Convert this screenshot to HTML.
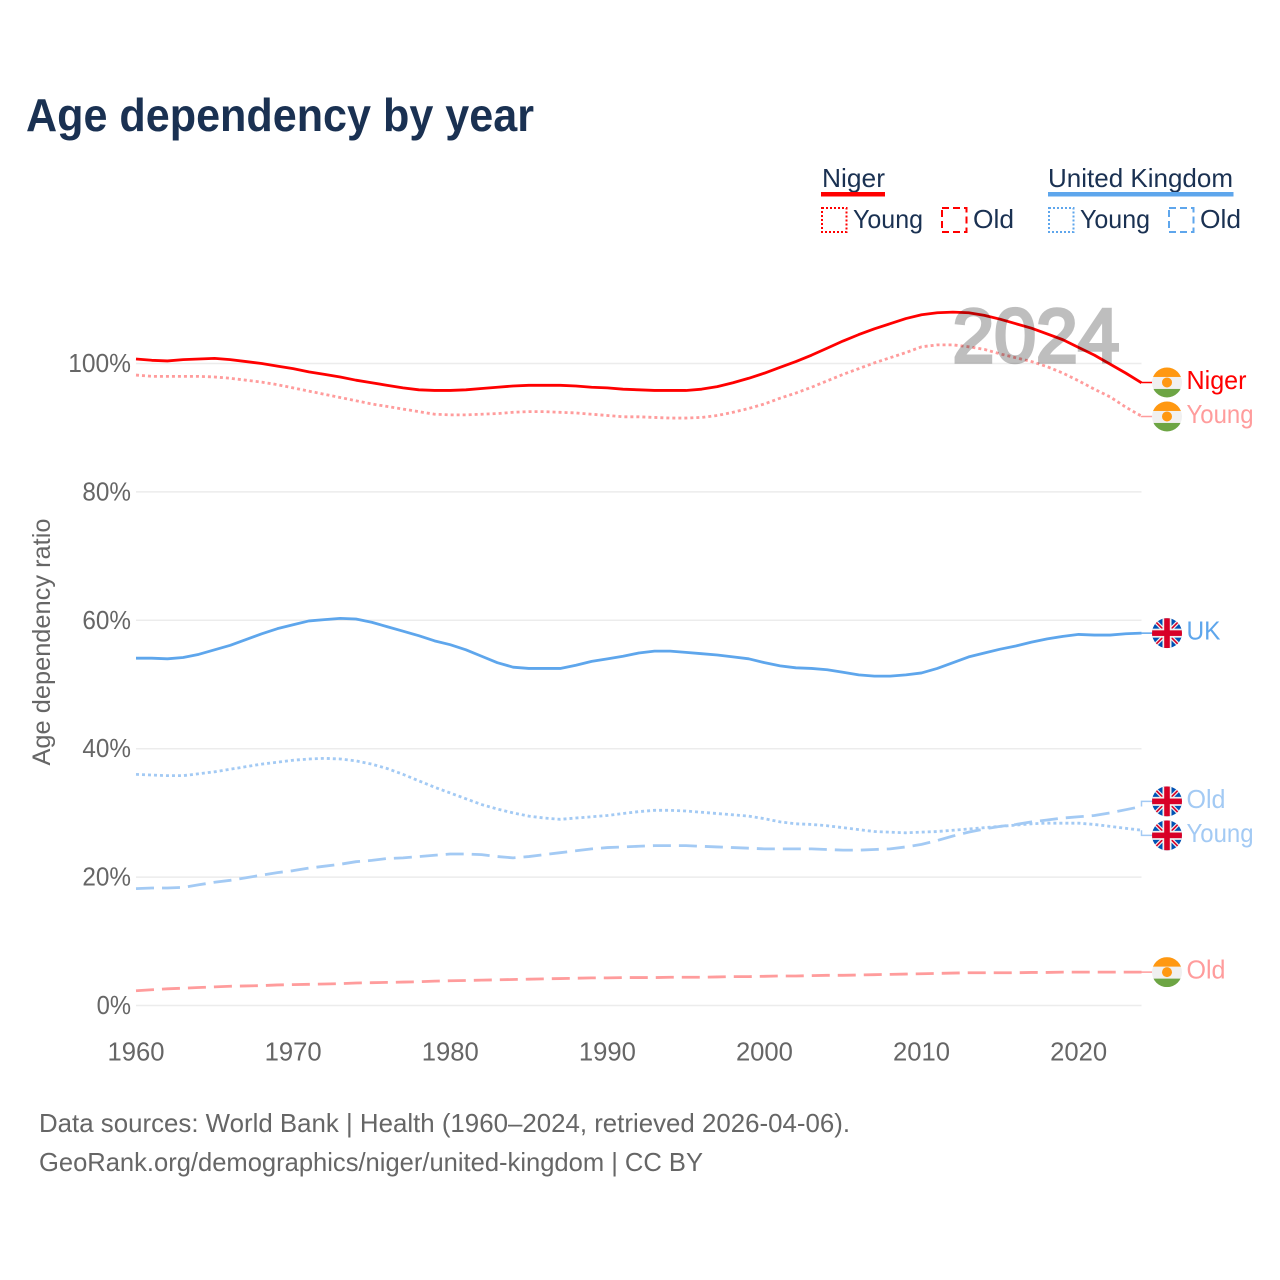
<!DOCTYPE html>
<html lang="en">
<head>
<meta charset="utf-8">
<title>Age dependency by year</title>
<style>
html,body{margin:0;padding:0;background:#fff;}
svg{display:block;font-family:"Liberation Sans",sans-serif;}
.legend{fill:#1a3152;font-size:26px;}
.tick{fill:#666;font-size:25.5px;}
.foot{fill:#666;font-size:26px;}
</style>
</head>
<body>
<svg id="chart" width="1280" height="1280" viewBox="0 0 1280 1280" xmlns="http://www.w3.org/2000/svg">
  <defs>
    <clipPath id="disc"><circle cx="0" cy="0" r="15"/></clipPath>
    <g id="flag-niger" clip-path="url(#disc)">
      <rect x="-15" y="-15" width="30" height="30" fill="#f0f0f0"/>
      <rect x="-15" y="-15" width="30" height="9.500" fill="#ff9811"/>
      <rect x="-15" y="6.500" width="30" height="8.500" fill="#6da544"/>
      <circle cx="0" cy="0" r="5" fill="#ff9811"/>
    </g>
    <g id="flag-uk" clip-path="url(#disc)">
      <rect x="-15" y="-15" width="30" height="30" fill="#0052b4"/>
      <path d="M-15-15L15 15M15-15L-15 15" stroke="#f0f0f0" stroke-width="4"/>
      <path d="M-15-15L15 15M15-15L-15 15" stroke="#d80027" stroke-width="1.6"/>
      <rect x="-4.500" y="-15" width="9" height="30" fill="#f0f0f0"/>
      <rect x="-15" y="-4.500" width="30" height="9" fill="#f0f0f0"/>
      <rect x="-2.800" y="-15" width="5.600" height="30" fill="#d80027"/>
      <rect x="-15" y="-2.800" width="30" height="5.600" fill="#d80027"/>
    </g>
  </defs>

  <text x="26" y="131" font-size="46" font-weight="700" fill="#1a3152" textLength="508" lengthAdjust="spacingAndGlyphs">Age dependency by year</text>

  <g>
    <text class="legend" x="822" y="187" textLength="63" lengthAdjust="spacingAndGlyphs">Niger</text>
    <rect x="821" y="192" width="64" height="4.5" fill="#ff0000"/>
    <rect x="822" y="208" width="24.5" height="24" fill="none" stroke="#ff0000" stroke-width="2" stroke-dasharray="2 2"/>
    <text class="legend" x="853" y="228" textLength="70" lengthAdjust="spacingAndGlyphs">Young</text>
    <rect x="942" y="208" width="24.5" height="24" fill="none" stroke="#ff0000" stroke-width="2" stroke-dasharray="7 4"/>
    <text class="legend" x="973" y="228" textLength="41" lengthAdjust="spacingAndGlyphs">Old</text>

    <text class="legend" x="1048" y="187" textLength="185" lengthAdjust="spacingAndGlyphs">United Kingdom</text>
    <rect x="1048" y="192" width="185.500" height="4.5" fill="#5ea6ec"/>
    <rect x="1049" y="208" width="24.5" height="24" fill="none" stroke="#5ea6ec" stroke-width="2" stroke-dasharray="2 2"/>
    <text class="legend" x="1080" y="228" textLength="70" lengthAdjust="spacingAndGlyphs">Young</text>
    <rect x="1169" y="208" width="24.5" height="24" fill="none" stroke="#5ea6ec" stroke-width="2" stroke-dasharray="7 4"/>
    <text class="legend" x="1200" y="228" textLength="41" lengthAdjust="spacingAndGlyphs">Old</text>
  </g>

  <g id="grid"></g>
  <g id="yticks"></g>
  <g id="xticks"></g>
  <text transform="translate(50,642) rotate(-90)" text-anchor="middle" font-size="25" fill="#666" textLength="247" lengthAdjust="spacingAndGlyphs">Age dependency ratio</text>

  <g id="series"></g>
  <g opacity="0.25">
    <text x="1036" y="362" text-anchor="middle" font-size="76" fill="#000" stroke="#000" stroke-width="3.5" textLength="167" lengthAdjust="spacingAndGlyphs">2024</text>
  </g>
  <g id="endlabels"></g>

  <text class="foot" x="39" y="1132" textLength="811" lengthAdjust="spacingAndGlyphs">Data sources: World Bank | Health (1960–2024, retrieved 2026-04-06).</text>
  <text class="foot" x="39" y="1171" textLength="664" lengthAdjust="spacingAndGlyphs">GeoRank.org/demographics/niger/united-kingdom | CC BY</text>
</svg>
<script>
var startYear = 1960;
var endYear = 2024;
var xTickYears = [1960, 1970, 1980, 1990, 2000, 2010, 2020];
var yTickValues = [0, 20, 40, 60, 80, 100];

var nigerTotal = [100.7,100.5,100.4,100.6,100.7,100.8,100.6,100.3,100.0,99.6,99.2,98.7,98.3,97.9,97.4,97.0,96.6,96.2,95.9,95.8,95.8,95.9,96.1,96.3,96.5,96.6,96.6,96.6,96.5,96.3,96.2,96.0,95.9,95.8,95.8,95.8,96.0,96.4,97.0,97.7,98.5,99.4,100.3,101.3,102.4,103.5,104.5,105.4,106.2,107.0,107.6,107.9,108.0,107.9,107.5,106.9,106.2,105.5,104.6,103.7,102.5,101.3,99.9,98.5,97.0];
var nigerYoung = [98.2,98.0,98.0,98.0,98.0,97.9,97.7,97.4,97.1,96.7,96.2,95.7,95.2,94.7,94.2,93.7,93.3,92.9,92.5,92.1,92.0,92.0,92.1,92.2,92.4,92.5,92.5,92.4,92.3,92.1,91.9,91.7,91.7,91.6,91.5,91.5,91.6,91.9,92.4,93.0,93.7,94.6,95.4,96.3,97.3,98.3,99.2,100.1,100.9,101.7,102.6,102.9,102.9,102.6,102.2,101.5,100.9,100.3,99.5,98.5,97.3,96.0,94.8,93.2,91.8];
var nigerOld = [2.3,2.45,2.6,2.7,2.8,2.9,3.0,3.05,3.1,3.2,3.25,3.3,3.35,3.4,3.5,3.55,3.6,3.65,3.7,3.8,3.85,3.9,3.95,4.0,4.05,4.1,4.15,4.2,4.25,4.3,4.3,4.35,4.35,4.35,4.4,4.4,4.4,4.45,4.5,4.5,4.55,4.6,4.6,4.65,4.7,4.7,4.75,4.8,4.85,4.9,4.95,5.0,5.05,5.1,5.1,5.1,5.1,5.15,5.15,5.2,5.2,5.2,5.2,5.2,5.2];
var ukTotal = [54.1,54.1,54.0,54.2,54.7,55.4,56.1,57.0,57.9,58.7,59.3,59.9,60.1,60.3,60.2,59.7,59.0,58.3,57.6,56.8,56.2,55.4,54.4,53.4,52.7,52.5,52.5,52.5,53.0,53.6,54.0,54.4,54.9,55.2,55.2,55.0,54.8,54.6,54.3,54.0,53.4,52.9,52.6,52.5,52.3,51.9,51.5,51.3,51.3,51.5,51.8,52.5,53.4,54.3,54.9,55.5,56.0,56.6,57.1,57.5,57.8,57.7,57.7,57.9,58.0];
var ukYoung = [36.0,35.9,35.8,35.8,36.1,36.4,36.8,37.2,37.6,37.9,38.2,38.4,38.5,38.4,38.1,37.6,36.9,36.0,35.0,34.0,33.1,32.2,31.3,30.6,30.0,29.5,29.2,29.0,29.2,29.4,29.6,29.9,30.2,30.4,30.4,30.3,30.1,29.9,29.7,29.5,29.1,28.6,28.3,28.2,28.0,27.7,27.4,27.1,27.0,26.9,27.0,27.1,27.3,27.5,27.7,27.9,28.1,28.3,28.4,28.4,28.4,28.2,27.9,27.6,27.3];
var ukOld = [18.2,18.3,18.3,18.4,18.8,19.2,19.5,19.9,20.3,20.7,21.0,21.4,21.7,22.0,22.4,22.6,22.9,23.0,23.2,23.4,23.6,23.6,23.5,23.2,23.0,23.2,23.5,23.8,24.1,24.4,24.6,24.7,24.8,24.9,24.9,24.9,24.8,24.7,24.6,24.5,24.4,24.4,24.4,24.4,24.3,24.2,24.2,24.3,24.4,24.7,25.1,25.7,26.4,27.0,27.5,27.9,28.2,28.6,28.9,29.2,29.4,29.6,30.0,30.5,31.0];

var NS = 'http://www.w3.org/2000/svg';
var X0 = 136, X1 = 1141.5, Y0 = 1005.5, Y100 = 363.5;
function xScale(year){ return X0 + (year - startYear) * (X1 - X0) / (endYear - startYear); }
function yScale(v){ return Y0 + v * (Y100 - Y0) / 100; }
function make(tag, attrs, parent){
  var el = document.createElementNS(NS, tag);
  for (var k in attrs) el.setAttribute(k, attrs[k]);
  parent.appendChild(el);
  return el;
}

var grid = document.getElementById('grid');
var yticks = document.getElementById('yticks');
var xticks = document.getElementById('xticks');
yTickValues.forEach(function(v){
  var line = make('line', {x1: X0, x2: X1, y1: yScale(v), y2: yScale(v), stroke: '#ececec', 'stroke-width': 1.5}, grid);
  
  
  var label = String(v) + '%';
  var t = make('text', {x: 131, y: yScale(v) + 8.5, 'text-anchor': 'end', 'class': 'tick', textLength: label.length * 14.2 + 6, lengthAdjust: 'spacingAndGlyphs'}, yticks);
  t.textContent = label;
  
  
});
xTickYears.forEach(function(y){
  var t = make('text', {x: xScale(y), y: 1060.5, 'text-anchor': 'middle', 'class': 'tick', textLength: 57, lengthAdjust: 'spacingAndGlyphs'}, xticks);
  t.textContent = String(y);
  
  
});

var RED = '#ff0000', PALE_RED = '#ff9c9c', BLUE = '#5ea6ec', PALE_BLUE = '#a3caf4';
var DOT = '3 3', DASH = '18 8';
var seriesList = [
  {key: 'niger-young', values: nigerYoung, color: PALE_RED, dash: DOT, label: 'Young', width: 67, flag: 'flag-niger'},
  {key: 'niger-old', values: nigerOld, color: PALE_RED, dash: DASH, label: 'Old', width: 39, flag: 'flag-niger'},
  {key: 'uk-young', values: ukYoung, color: PALE_BLUE, dash: DOT, label: 'Young', width: 67, flag: 'flag-uk'},
  {key: 'uk-old', values: ukOld, color: PALE_BLUE, dash: DASH, label: 'Old', width: 39, flag: 'flag-uk'},
  {key: 'uk-total', values: ukTotal, color: BLUE, dash: '', label: 'UK', width: 34, flag: 'flag-uk'},
  {key: 'niger-total', values: nigerTotal, color: RED, dash: '', label: 'Niger', width: 60, flag: 'flag-niger'}
];

/* place end labels: start at the last value and spread overlapping neighbours */
var placed = seriesList.map(function(s){
  return {s: s, lastY: yScale(s.values[s.values.length - 1]), y: yScale(s.values[s.values.length - 1])};
}).sort(function(a, b){ return a.y - b.y; });
var MIN_GAP = 34;
for (var i = 1; i < placed.length; i++) {
  if (placed[i].y - placed[i - 1].y < MIN_GAP) {
    var mid = (placed[i].y + placed[i - 1].y) / 2;
    placed[i - 1].y = mid - MIN_GAP / 2;
    placed[i].y = mid + MIN_GAP / 2;
  }
}

var seriesGroup = document.getElementById('series');
var endGroup = document.getElementById('endlabels');
seriesList.forEach(function(s){
  var d = s.values.map(function(v, i){
    return (i ? 'L' : 'M') + xScale(startYear + i).toFixed(2) + ' ' + yScale(v).toFixed(2);
  }).join('');
  var attrs = {d: d, fill: 'none', stroke: s.color, 'stroke-width': 2.8, 'stroke-linejoin': 'round'};
  if (s.dash) attrs['stroke-dasharray'] = s.dash;
  var path = make('path', attrs, seriesGroup);
  
  
});
placed.forEach(function(p){
  var s = p.s;
  var lx = xScale(endYear);
  var link = make('path', {d: 'M' + lx + ' ' + p.lastY + 'L' + lx + ' ' + p.y + 'L1152 ' + p.y, fill: 'none', stroke: s.color, 'stroke-width': 1.5}, endGroup);
  
  
  var flag = make('use', {href: '#' + s.flag, transform: 'translate(1167,' + p.y + ')'}, endGroup);
  
  
  var t = make('text', {x: 1186.5, y: p.y + 6.5, fill: s.color, 'font-size': 26, textLength: s.width, lengthAdjust: 'spacingAndGlyphs'}, endGroup);
  t.textContent = s.label;
  
  
});
</script>
</body>
</html>
